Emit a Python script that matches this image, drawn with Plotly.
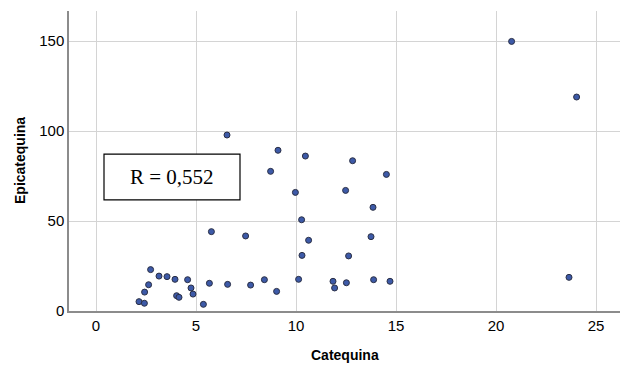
import plotly.graph_objects as go

catequina = [2.15, 2.42, 2.43, 2.63, 2.73, 3.15, 3.55, 3.95, 4.03, 4.15, 4.58, 4.75, 4.85,
             5.37, 5.67, 5.77, 6.58, 7.48, 7.73, 8.42, 9.03, 9.97, 10.13, 10.28, 10.3, 10.63,
             12.48, 13.85, 13.75, 12.63, 11.85, 11.93, 12.52, 13.88, 14.7, 23.65,
             20.78, 24.03, 10.47, 12.83, 14.52, 6.55, 9.1, 8.73]
epicatequina = [5.2, 4.3, 10.5, 14.6, 23.0, 19.4, 19.1, 17.6, 8.5, 7.6, 17.4, 12.8, 9.4,
                3.7, 15.4, 44.1, 14.8, 41.7, 14.4, 17.4, 10.9, 65.9, 17.6, 50.7, 30.9, 39.3,
                67.0, 57.6, 41.3, 30.6, 16.5, 12.8, 15.7, 17.4, 16.5, 18.7,
                149.8, 118.9, 86.1, 83.5, 75.9, 97.8, 89.3, 77.6]
x_ticks = [0, 5, 10, 15, 20, 25]
y_ticks = [0, 50, 100, 150]
r_text = "R = 0,552"

fig = go.Figure()
fig.add_trace(go.Scatter(
    x=catequina, y=epicatequina, mode="markers",
    marker=dict(size=6, color="#3d5aa8", line=dict(color="#2a2f45", width=1)),
    showlegend=False, hoverinfo="skip"))

fig.update_layout(
    width=620, height=365,
    margin=dict(l=69, r=0, t=11, b=54),
    paper_bgcolor="white", plot_bgcolor="white",
    font=dict(family="Liberation Sans, Arial", color="#000000"),
    xaxis=dict(range=[-1.35, 26.2], tickvals=x_ticks, showgrid=True, gridcolor="#d4d4d4",
               gridwidth=1, zeroline=False, showline=True, linecolor="#8c8c8c", linewidth=1.5,
               tickfont=dict(size=15), ticks="", ticklen=0),
    yaxis=dict(range=[0, 166.7], tickvals=y_ticks, showgrid=True, gridcolor="#d4d4d4",
               gridwidth=1, zeroline=False, showline=True, linecolor="#8c8c8c", linewidth=1.5,
               tickfont=dict(size=15), ticks="", ticklen=0),
    annotations=[
        dict(text="<b>Catequina</b>", xref="paper", yref="paper", x=0.5, y=0,
             xshift=0, yshift=-44, xanchor="center", yanchor="middle",
             showarrow=False, font=dict(size=14)),
        dict(text="<b>Epicatequina</b>", xref="paper", yref="paper", x=0, y=0.5,
             xshift=-49, xanchor="center", yanchor="middle", textangle=-90,
             showarrow=False, font=dict(size=14)),
    ],
)
# R box
fig.add_shape(type="rect", xref="x", yref="y", x0=0.4, x1=7.2, y0=61.7, y1=87.2,
              line=dict(color="black", width=1.2), fillcolor="white", layer="above")
fig.add_annotation(text=r_text, xref="x", yref="y", x=3.8, y=74.4, showarrow=False,
                   font=dict(family="Liberation Serif, Times New Roman", size=21, color="black"),
                   xanchor="center", yanchor="middle")

fig.write_html("out.html")
